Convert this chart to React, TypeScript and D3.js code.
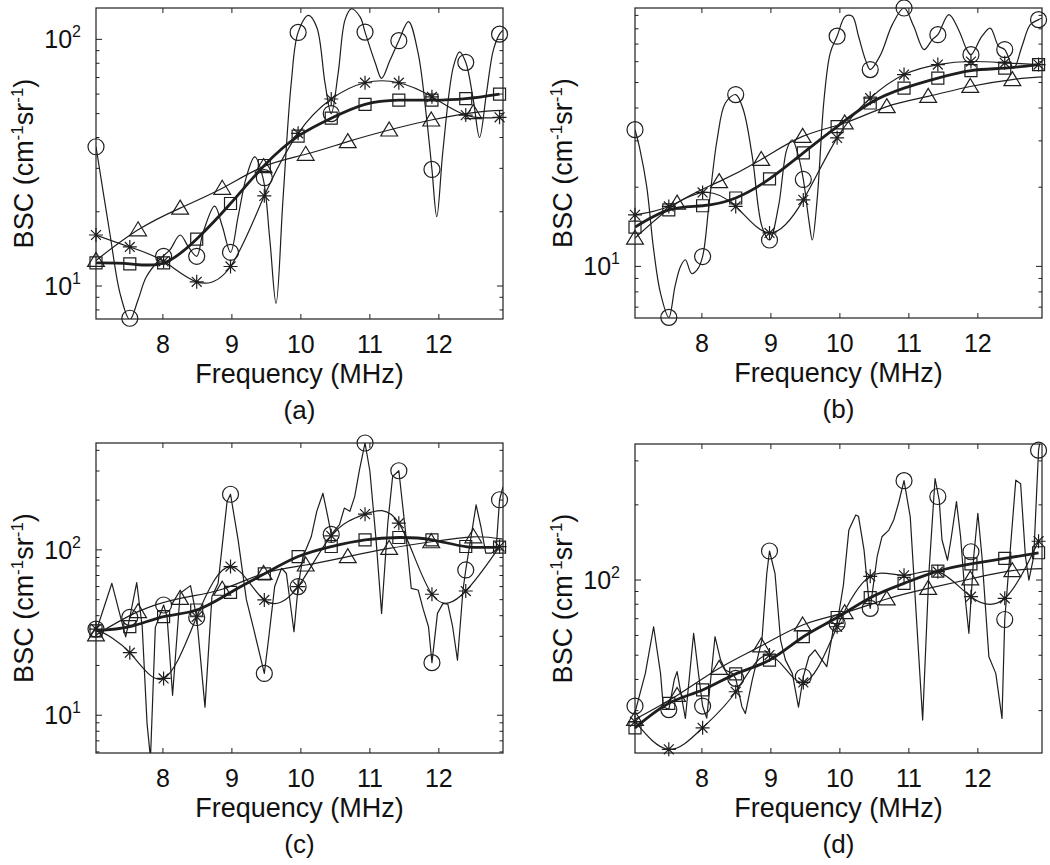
import React from "react";
import * as d3 from "d3";

// ---------- shared axis values ----------
const freqDomain: [number, number] = [7.03, 12.93];
const markerFreq = [7.03, 7.52, 8.01, 8.49, 8.98, 9.47, 9.96, 10.44, 10.93, 11.42, 11.9, 12.39, 12.88];
const triangleFreq = [7.03, 7.64, 8.25, 8.86, 9.46, 10.07, 10.68, 11.28, 11.89, 12.5, 12.93];
const triangleMarkerCount = 10;
const freqTicks = [8, 9, 10, 11, 12];

// ---------- panel (a) ----------
const aCircle = [36.7, 7.4, 13.2, 13.2, 13.7, 27.5, 106.7, 50, 107, 98.8, 29.7, 80.7, 105];
const aStar = [16.1, 14.4, 12.6, 10.4, 12.0, 23.2, 41.6, 57.3, 66.7, 66.7, 58.5, 49.3, 48.3];
const aSquare = [12.4, 12.3, 12.4, 15.5, 21.6, 30.8, 40.5, 47.9, 54.5, 56.7, 56.7, 57.5, 60];
const aTriangle = [12.7, 16.9, 20.7, 24.9, 30.5, 34.2, 38.5, 42.9, 47.1, 50.5, 51.5];
const aRaw: [number, number][] = [
  [7.03, 36.7], [7.23, 16.4], [7.38, 9.3], [7.52, 7.3], [7.64, 8.8], [7.76, 10.9], [7.96, 12.9],
  [8.1, 14], [8.25, 16.1], [8.37, 14.4], [8.49, 13.2], [8.58, 16.4], [8.75, 21.1], [8.86, 17.5],
  [8.98, 13.7], [9.09, 19.1], [9.21, 27.7], [9.33, 33.4], [9.45, 27.5], [9.55, 15.4], [9.64, 8.5],
  [9.74, 22.3], [9.86, 66.4], [9.96, 106.7], [10.11, 125], [10.23, 112], [10.35, 66.4], [10.44, 50],
  [10.54, 72.8], [10.64, 120], [10.73, 133], [10.86, 123], [10.93, 107], [11.08, 80], [11.17, 69.5],
  [11.29, 82], [11.42, 98.8], [11.56, 118], [11.7, 87.7], [11.82, 48.6], [11.9, 29.7], [11.97, 19.1],
  [12.06, 35.6], [12.21, 77.4], [12.3, 89], [12.39, 80.7], [12.5, 56.7], [12.59, 40], [12.69, 60.4],
  [12.79, 90.5], [12.88, 105], [12.93, 109],
];

// ---------- panel (b) ----------
const bCircle = [33.1, 6.4, 10.9, 45, 12.6, 21.4, 75, 56, 96, 76, 63.8, 66.7, 86.7];
const bStar = [15.7, 16.9, 19.1, 16.9, 13.4, 17.9, 30.8, 43.6, 53.6, 58.5, 60.1, 59.4, 58.5];
const bSquare = [14.1, 16.4, 17.0, 18.2, 21.5, 27, 34, 41.8, 47.6, 52, 55.5, 56.7, 58.5];
const bTriangle = [12.8, 17.4, 21, 25.5, 31.2, 35.1, 40.5, 44.3, 48.3, 51.3, 52.5];
const bRaw: [number, number][] = [
  [7.03, 33.1], [7.1, 28], [7.2, 20.1], [7.3, 11.6], [7.4, 7.9], [7.52, 6.4], [7.61, 8.4],
  [7.69, 10], [7.76, 10.6], [7.85, 9.4], [7.93, 9.7], [8.01, 10.9], [8.1, 16.9], [8.22, 30.3],
  [8.34, 41.8], [8.49, 45], [8.6, 39.4], [8.73, 26.2], [8.87, 14.2], [8.98, 12.6], [9.11, 16.9],
  [9.23, 27.8], [9.31, 30.3], [9.4, 26.2], [9.47, 21.4], [9.55, 15], [9.6, 12.6], [9.67, 17.9],
  [9.77, 43], [9.86, 64.7], [9.96, 75], [10.08, 89.3], [10.18, 89.3], [10.27, 75], [10.37, 61.1],
  [10.44, 56], [10.59, 63.8], [10.76, 83], [10.93, 96], [11.07, 81.8], [11.22, 66.7], [11.34, 72.8],
  [11.42, 76], [11.58, 90.6], [11.72, 79.4], [11.84, 66.7], [11.9, 63.8], [12.06, 75], [12.18, 80.5],
  [12.3, 68.7], [12.39, 66.7], [12.52, 56.7], [12.64, 68.7], [12.76, 83], [12.88, 86.7], [12.93, 88],
];

// ---------- panel (c) ----------
const cCircle = [33.2, 39.1, 46.4, 39, 217, 17.9, 60, 124, 443, 301, 20.8, 75.6, 201];
const cStar = [33.2, 23.9, 16.7, 39.4, 79.3, 49.8, 60, 121.6, 164.5, 145, 53.9, 56.4, 104.7];
const cSquare = [32.4, 34.3, 39.5, 43.3, 55.3, 71.6, 91.1, 104.8, 114.9, 118.8, 115, 104.8, 104];
const cTriangle = [30.6, 42.3, 50.9, 57.8, 72, 81, 91, 102, 112, 120, 116];
const cRaw: [number, number][] = [
  [7.03, 32], [7.26, 62.8], [7.46, 29.8], [7.52, 39.1], [7.62, 63.4], [7.7, 34.3], [7.77, 8.9],
  [7.82, 5.5], [7.89, 34], [8.01, 46.4], [8.06, 39.5], [8.14, 13.2], [8.25, 54.6], [8.4, 60.8],
  [8.49, 39], [8.61, 11.2], [8.71, 52], [8.8, 62.8], [8.93, 196], [8.98, 217], [9.09, 115],
  [9.21, 50], [9.31, 34], [9.47, 17.9], [9.53, 28.5], [9.62, 60], [9.72, 77.4], [9.79, 72],
  [9.9, 32], [9.96, 60], [10.03, 91], [10.15, 120], [10.23, 171], [10.32, 220], [10.39, 159],
  [10.44, 124], [10.56, 142], [10.63, 179], [10.71, 171], [10.78, 210], [10.85, 306], [10.93, 443],
  [11.0, 300], [11.09, 115], [11.17, 41.3], [11.26, 145], [11.33, 278], [11.42, 301], [11.53, 115],
  [11.6, 58.5], [11.7, 57.2], [11.77, 44.3], [11.85, 34.3], [11.9, 20.8], [11.98, 41.3],
  [12.06, 47.5], [12.13, 47], [12.2, 34.3], [12.27, 21.5], [12.35, 57.2], [12.39, 75.6],
  [12.54, 187], [12.61, 138], [12.68, 95.5], [12.76, 95.5], [12.83, 100], [12.88, 201], [12.93, 240],
];

// ---------- panel (d) ----------
const dCircle = [31.3, 30.3, 31.3, 40.4, 130.7, 41, 67, 77, 250, 216, 129.8, 69.5, 331];
const dStar = [27.1, 21, 25.6, 35.7, 50.1, 38.9, 65, 103.5, 104.5, 108, 85.8, 84.5, 143];
const dSquare = [25.6, 32.1, 36.3, 42.1, 47.8, 59.3, 70.8, 85, 97, 108.5, 116, 122, 128.6];
const dTriangle = [27.7, 34.5, 44.3, 54.5, 66.1, 74, 84, 92.6, 101, 109, 111];
const dRaw: [number, number][] = [
  [7.03, 29.5], [7.18, 42.3], [7.3, 65], [7.4, 42.3], [7.44, 31.1], [7.52, 30.3], [7.6, 40],
  [7.64, 43], [7.76, 27.9], [7.88, 61.2], [7.95, 42.3], [8.01, 31.3], [8.07, 28], [8.19, 59.3],
  [8.27, 47.9], [8.34, 43.6], [8.44, 42.3], [8.49, 40.4], [8.58, 31.1], [8.63, 29.2], [8.73, 39.8],
  [8.87, 57.5], [8.94, 106], [8.98, 130.7], [9.06, 106], [9.14, 57.5], [9.21, 47.9], [9.31, 42.3],
  [9.4, 31], [9.47, 41], [9.55, 49.3], [9.64, 52.5], [9.74, 47.9], [9.81, 45], [9.91, 65],
  [9.96, 67], [10.05, 95], [10.13, 158.5], [10.23, 182], [10.27, 180], [10.35, 132], [10.42, 83],
  [10.44, 77], [10.54, 124], [10.61, 149], [10.71, 158.5], [10.78, 174], [10.85, 203], [10.93, 250],
  [11.02, 179], [11.1, 78], [11.2, 27.5], [11.29, 106], [11.38, 255], [11.44, 209], [11.48, 145],
  [11.56, 120], [11.61, 145], [11.69, 206], [11.75, 149], [11.82, 83], [11.87, 61.2], [11.94, 124],
  [12.0, 185], [12.06, 124], [12.16, 49.3], [12.26, 42.3], [12.35, 27.9], [12.39, 69.5],
  [12.55, 251], [12.62, 243], [12.69, 124], [12.74, 100], [12.81, 124], [12.88, 331], [12.93, 400],
];

// ---------- panel definitions ----------
type PanelData = {
  label: string;
  yDomain: [number, number];
  circle: number[];
  star: number[];
  square: number[];
  triangle: number[];
  raw: [number, number][];
  smoothRaw: boolean;
};

const panelData: PanelData[] = [
  { label: "(a)", yDomain: [7.35, 134], circle: aCircle, star: aStar, square: aSquare, triangle: aTriangle, raw: aRaw, smoothRaw: true },
  { label: "(b)", yDomain: [6.365, 96], circle: bCircle, star: bStar, square: bSquare, triangle: bTriangle, raw: bRaw, smoothRaw: true },
  { label: "(c)", yDomain: [5.91, 443], circle: cCircle, star: cStar, square: cSquare, triangle: cTriangle, raw: cRaw, smoothRaw: false },
  { label: "(d)", yDomain: [20.3, 350.5], circle: dCircle, star: dStar, square: dSquare, triangle: dTriangle, raw: dRaw, smoothRaw: false },
];

// layout (pixel boxes of the four plot areas)
const boxes = [
  { left: 96, top: 8, width: 407, height: 311 },
  { left: 635, top: 8, width: 407, height: 310 },
  { left: 96, top: 443, width: 407, height: 310 },
  { left: 635, top: 444, width: 407, height: 309 },
];

const INK = "#1e1e1e";
const FONT = "'Liberation Sans', Arial, Helvetica, sans-serif";

function circleMarker(r: number) {
  return `M${r},0A${r},${r} 0 1,1 ${-r},0A${r},${r} 0 1,1 ${r},0Z`;
}
function squareMarker(h: number) {
  return `M${-h},${-h}H${h}V${h}H${-h}Z`;
}
function triangleMarker(h: number) {
  return `M0,${-h}L${h * 1.05},${h * 0.75}L${-h * 1.05},${h * 0.75}Z`;
}
function starMarker(r: number) {
  const d = r * Math.SQRT1_2;
  return `M${-r},0H${r}M0,${-r}V${r}M${-d},${-d}L${d},${d}M${-d},${d}L${d},${-d}`;
}

function Panel({ data, box, idx }: { data: PanelData; box: { left: number; top: number; width: number; height: number }; idx: number }) {
  const { left, top, width, height } = box;
  const right = left + width;
  const bottom = top + height;
  const x = d3.scaleLinear().domain(freqDomain).range([left, right]);
  const y = d3.scaleLog().domain(data.yDomain).range([bottom, top]);

  const lineSmooth = d3
    .line<[number, number]>()
    .x((d) => x(d[0]))
    .y((d) => y(d[1]))
    .curve(d3.curveNatural);
  const lineRaw = d3
    .line<[number, number]>()
    .x((d) => x(d[0]))
    .y((d) => y(d[1]))
    .curve(data.smoothRaw ? d3.curveCatmullRom.alpha(0.5) : d3.curveLinear);

  const starPts = markerFreq.map((f, i) => [f, data.star[i]] as [number, number]);
  const squarePts = markerFreq.map((f, i) => [f, data.square[i]] as [number, number]);
  const triPts = triangleFreq.map((f, i) => [f, data.triangle[i]] as [number, number]);
  const circlePts = markerFreq.map((f, i) => [f, data.circle[i]] as [number, number]);

  // log ticks
  const [y0, y1] = data.yDomain;
  const majors: number[] = [];
  const minors: number[] = [];
  for (let e = Math.floor(Math.log10(y0)); e <= Math.ceil(Math.log10(y1)); e++) {
    for (let m = 1; m <= 9; m++) {
      const v = m * Math.pow(10, e);
      if (v >= y0 && v <= y1) (m === 1 ? majors : minors).push(v);
    }
  }
  const clipId = `clip-${idx}`;

  return (
    <g>
      <defs>
        <clipPath id={clipId}>
          <rect x={left} y={top} width={width} height={height} />
        </clipPath>
      </defs>

      {/* ticks */}
      <g stroke={INK} strokeWidth={1}>
        {freqTicks.map((t) => (
          <g key={`xt${t}`}>
            <line x1={x(t)} x2={x(t)} y1={bottom} y2={bottom - 5} />
            <line x1={x(t)} x2={x(t)} y1={top} y2={top + 5} />
          </g>
        ))}
        {majors.map((v) => (
          <g key={`ym${v}`}>
            <line x1={left} x2={left + 6} y1={y(v)} y2={y(v)} />
            <line x1={right} x2={right - 6} y1={y(v)} y2={y(v)} />
          </g>
        ))}
        {minors.map((v) => (
          <g key={`yn${v}`}>
            <line x1={left} x2={left + 3.5} y1={y(v)} y2={y(v)} />
            <line x1={right} x2={right - 3.5} y1={y(v)} y2={y(v)} />
          </g>
        ))}
      </g>

      {/* curves */}
      <g clipPath={`url(#${clipId})`} fill="none" stroke={INK} strokeLinejoin="round">
        <path d={lineRaw(data.raw) || ""} strokeWidth={1.2} />
        <path d={lineSmooth(triPts) || ""} strokeWidth={1.2} />
        <path d={lineSmooth(starPts) || ""} strokeWidth={1.2} />
        <path d={lineSmooth(squarePts) || ""} strokeWidth={2.8} />
      </g>

      {/* markers */}
      <g fill="none" stroke={INK} strokeWidth={1.2}>
        {circlePts.map((p, i) => (
          <path key={`c${i}`} transform={`translate(${x(p[0])},${y(p[1])})`} d={circleMarker(8)} />
        ))}
        {squarePts.map((p, i) => (
          <path key={`s${i}`} transform={`translate(${x(p[0])},${y(p[1])})`} d={squareMarker(6)} />
        ))}
        {triPts.slice(0, triangleMarkerCount).map((p, i) => (
          <path key={`t${i}`} transform={`translate(${x(p[0])},${y(p[1])})`} d={triangleMarker(8)} />
        ))}
        {starPts.map((p, i) => (
          <path key={`a${i}`} transform={`translate(${x(p[0])},${y(p[1])})`} d={starMarker(7)} />
        ))}
      </g>

      {/* frame */}
      <rect x={left} y={top} width={width} height={height} fill="none" stroke={INK} strokeWidth={1.2} />

      {/* tick labels */}
      <g fontFamily={FONT} fill="#111">
        {freqTicks.map((t) => (
          <text key={`xl${t}`} x={x(t)} y={bottom + 34} fontSize={25} textAnchor="middle">
            {t}
          </text>
        ))}
        {majors.map((v) => (
          <text key={`yl${v}`} x={left - 15} y={y(v) + 9} fontSize={25} textAnchor="end">
            10
            <tspan dy={-11} fontSize={16}>
              {Math.round(Math.log10(v))}
            </tspan>
          </text>
        ))}
        <text x={(left + right) / 2} y={bottom + 64} fontSize={27} textAnchor="middle">
          Frequency (MHz)
        </text>
        <text x={(left + right) / 2} y={bottom + 100} fontSize={26} textAnchor="middle">
          {data.label}
        </text>
        <text
          transform={`translate(${left - 63},${(top + bottom) / 2}) rotate(-90)`}
          fontSize={27}
          textAnchor="middle"
        >
          BSC (cm
          <tspan dy={-10} fontSize={17}>
            -1
          </tspan>
          <tspan dy={10}>sr</tspan>
          <tspan dy={-10} fontSize={17}>
            -1
          </tspan>
          <tspan dy={10}>)</tspan>
        </text>
      </g>
    </g>
  );
}

export default function App() {
  return (
    <svg
      width={1050}
      height={865}
      viewBox="0 0 1050 865"
      style={{ position: "absolute", left: 0, top: 0, background: "#fff" }}
    >
      <rect x={0} y={0} width={1050} height={865} fill="#fff" />
      {panelData.map((p, i) => (
        <Panel key={p.label} data={p} box={boxes[i]} idx={i} />
      ))}
    </svg>
  );
}
